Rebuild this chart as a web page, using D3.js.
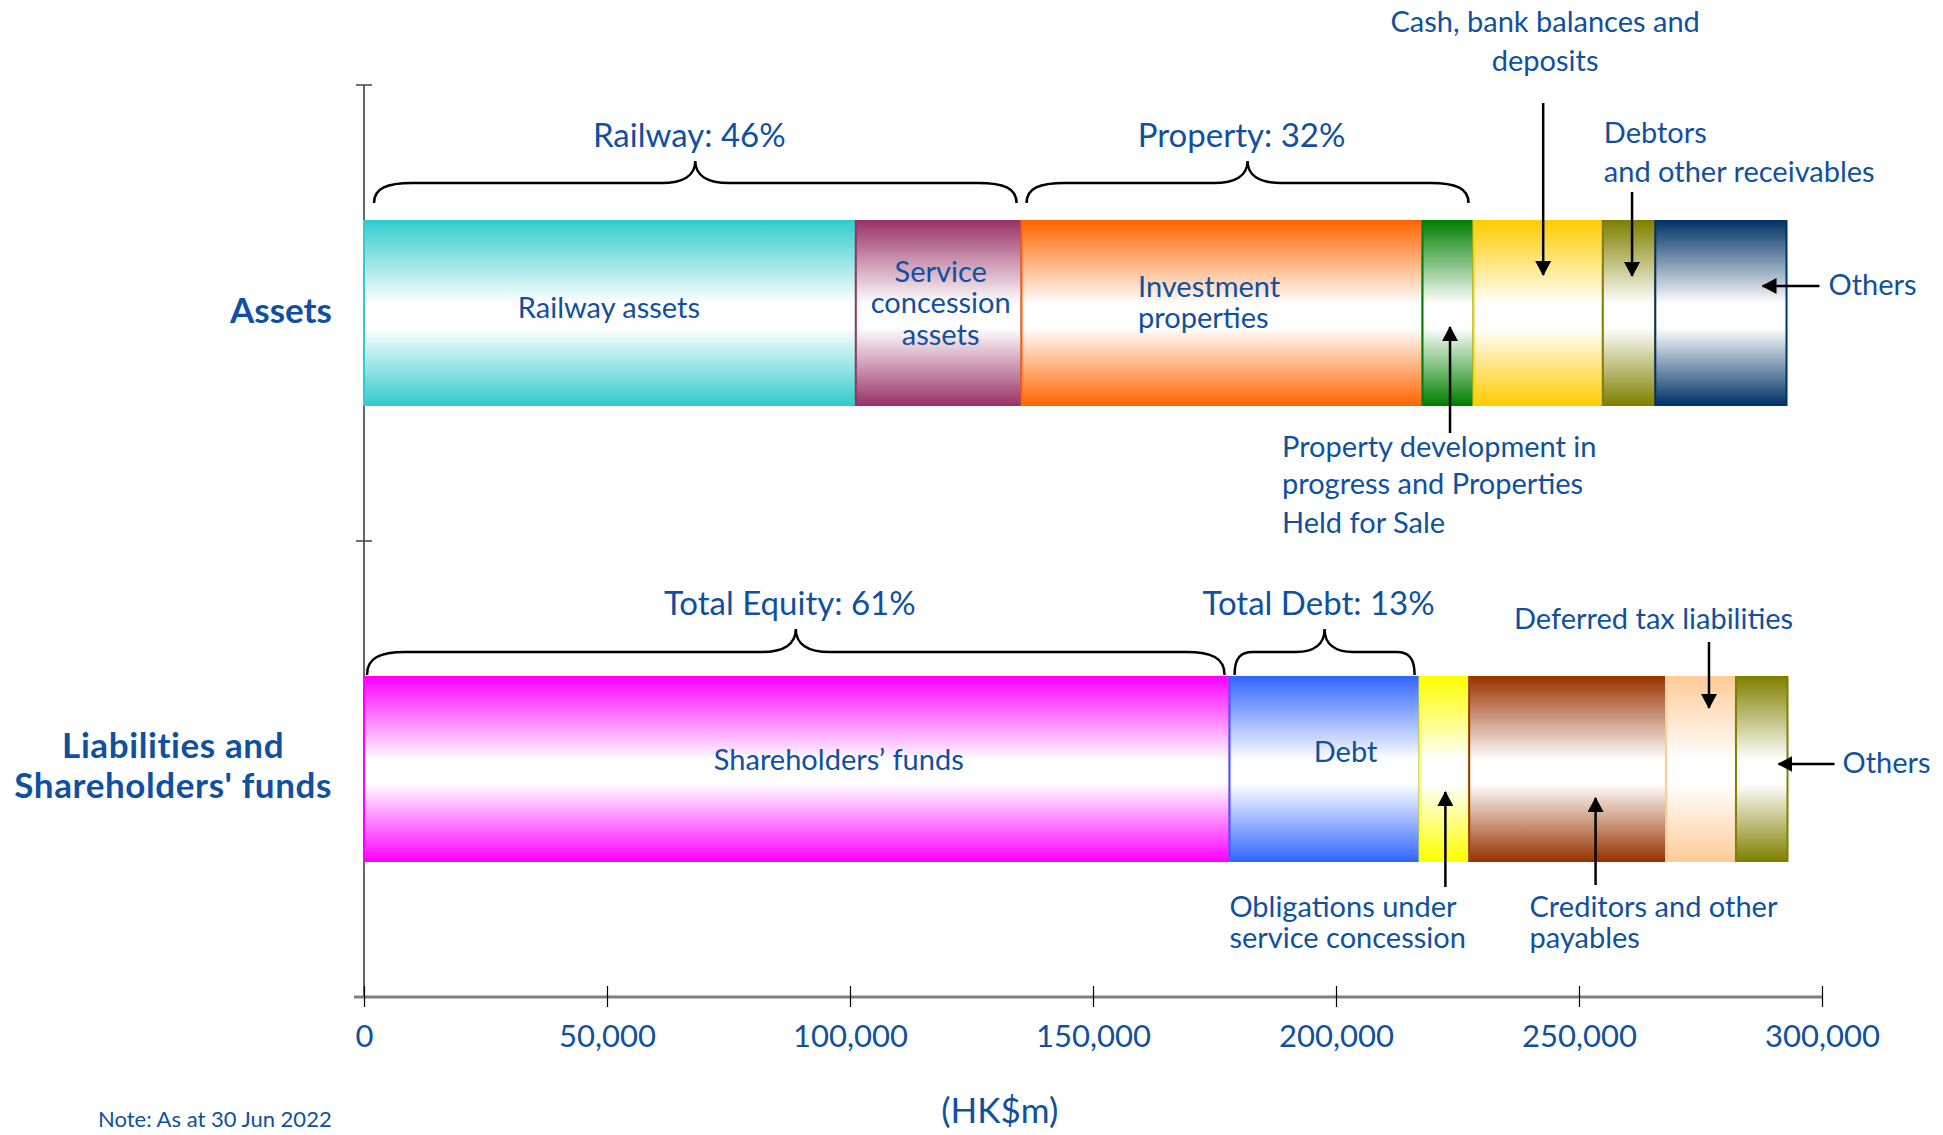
<!DOCTYPE html>
<html>
<head>
<meta charset="utf-8">
<script src="https://cdn.jsdelivr.net/npm/d3@7"></script>
<style>
  html, body { margin: 0; padding: 0; background: #fff; }
  svg { display: block; font-family: Lato, "Noto Sans", sans-serif; }
</style>
</head>
<body>
<svg id="chart" width="1943" height="1135"></svg>
<script>
// ---- Data (HK$m, as at 30 Jun 2022) ----
const categories = ["Assets", "Liabilities and Shareholders' funds"];
const categoryLines = [["Assets"], ["Liabilities and", "Shareholders' funds"]];

const assetItems = [
  ["Railway assets"],
  ["Service", "concession", "assets"],
  ["Investment", "properties"],
  ["Property development in", "progress and Properties", "Held for Sale"],
  ["Cash, bank balances and", "deposits"],
  ["Debtors", "and other receivables"],
  ["Others"]
];
const assetValues = [101200, 34100, 82500, 10500, 26600, 10800, 27000];

const liabilityItems = [
  ["Shareholders\u2019 funds"],
  ["Debt"],
  ["Obligations under", "service concession"],
  ["Creditors and other", "payables"],
  ["Deferred tax liabilities"],
  ["Others"]
];
const liabilityValues = [178100, 39100, 10200, 40500, 14400, 10600];

const assetGroups = ["Railway: 46%", "Property: 32%"];
const assetGroupSpans = [[0, 1], [2, 3]];
const liabilityGroups = ["Total Equity: 61%", "Total Debt: 13%"];
const liabilityGroupSpans = [[0, 0], [1, 1]];

const xTicks = [0, 50000, 100000, 150000, 200000, 250000, 300000];
const unitLabel = "(HK$m)";
const noteLabel = "Note: As at 30 Jun 2022";

// ---- Styling ----
const assetColors = ["#33cccc", "#993366", "#ff6600", "#008000", "#ffcc00", "#808000", "#003366"];
const liabilityColors = ["#ff00ff", "#3366ff", "#ffff00", "#993300", "#ffcc99", "#808000"];
const textBlue = "#1050a0";

// Label placement for each segment, relative to the segment centre (cx),
// the bar centre (cy) and the segment ends (x0, x1).
const assetLabelLayout = [
  { anchor: "middle", tx: s => s.cx - 1, ty: [5] },
  { anchor: "middle", tx: s => s.cx + 2, ty: [-31, 0, 32] },
  { anchor: "start",  tx: s => s.cx - 84, ty: [-16, 15] },
  { anchor: "start", tx: s => s.cx - 166, ty: [144, 181, 220],
    arrow: s => [[s.cx + 2, s.cy + 120], [s.cx + 2, s.cy + 14]] },
  { anchor: "middle", tx: s => s.cx + 7, ty: [-281, -242],
    arrow: s => [[s.cx + 5, s.cy - 210], [s.cx + 5, s.cy - 38]] },
  { anchor: "start", tx: s => s.x0 + 1, ty: [-170, -131],
    arrow: s => [[s.cx + 3, s.cy - 121], [s.cx + 3, s.cy - 37]] },
  { anchor: "start", tx: s => s.x1 + 42, ty: [-18],
    arrow: s => [[s.x1 + 33, s.cy - 27], [s.x1 - 24, s.cy - 27]] }
];
const liabilityLabelLayout = [
  { anchor: "middle", tx: s => s.cx + 42, ty: [1] },
  { anchor: "middle", tx: s => s.cx + 21, ty: [-7] },
  { anchor: "start", tx: s => s.cx - 215, ty: [148, 179],
    arrow: s => [[s.cx + 1, s.cy + 118], [s.cx + 1, s.cy + 23]] },
  { anchor: "start", tx: s => s.cx - 38, ty: [148, 179],
    arrow: s => [[s.cx + 28, s.cy + 116], [s.cx + 28, s.cy + 29]] },
  { anchor: "start", tx: s => s.cx - 187, ty: [-140],
    arrow: s => [[s.cx + 8, s.cy - 127], [s.cx + 8, s.cy - 61]] },
  { anchor: "start", tx: s => s.x1 + 55, ty: [4],
    arrow: s => [[s.x1 + 47, s.cy - 5], [s.x1 - 9, s.cy - 5]] }
];

// ---- Scales ----
const svg = d3.select("#chart");
const x = d3.scaleLinear().domain([0, 300000]).range([364, 1822]);
const y = d3.scaleBand().domain(categories).range([85, 997]).paddingInner(0).paddingOuter(0);
const barH = 184;
const axisY = y.range()[1];

const defs = svg.append("defs");

// Vertical "tube" gradients: colour at the edges, white through the middle
function gradientFor(id, color) {
  const g = defs.append("linearGradient").attr("id", id)
    .attr("x1", 0).attr("y1", 0).attr("x2", 0).attr("y2", 1);
  g.append("stop").attr("offset", "0%").attr("stop-color", color);
  g.append("stop").attr("offset", "45%").attr("stop-color", "#ffffff");
  g.append("stop").attr("offset", "58%").attr("stop-color", "#ffffff");
  g.append("stop").attr("offset", "100%").attr("stop-color", color);
  return `url(#${id})`;
}

defs.append("marker")
  .attr("id", "arrowhead")
  .attr("markerUnits", "userSpaceOnUse")
  .attr("viewBox", "0 0 15 16")
  .attr("markerWidth", 15).attr("markerHeight", 16)
  .attr("refX", 14).attr("refY", 8)
  .attr("orient", "auto")
  .append("path").attr("d", "M0,0 L15,8 L0,16 Z").attr("fill", "#000");

// ---- Axes ----
// Y axis: plain line with ticks at band boundaries
svg.append("line")
  .attr("x1", x(0)).attr("x2", x(0))
  .attr("y1", y.range()[0]).attr("y2", axisY)
  .attr("stroke", "#333").attr("stroke-width", 1.5);
const yBoundaries = categories.map(c => y(c)).concat([axisY]);
svg.append("g").selectAll("line").data(yBoundaries).join("line")
  .attr("x1", x(0) - 8).attr("x2", x(0) + 8)
  .attr("y1", d => d).attr("y2", d => d)
  .attr("stroke", "#444").attr("stroke-width", 1.5);

// X axis baseline
svg.append("line")
  .attr("x1", x(0) - 10).attr("x2", x.range()[1])
  .attr("y1", axisY).attr("y2", axisY)
  .attr("stroke", "#7f7f7f").attr("stroke-width", 3);

const xAxis = d3.axisBottom(x).tickValues(xTicks).tickFormat(d3.format(",")).tickSize(10);
const gx = svg.append("g").attr("transform", `translate(0,${axisY})`).call(xAxis)
  .attr("font-family", null).attr("font-size", null);
gx.select(".domain").remove();
gx.selectAll(".tick line").attr("y1", -11).attr("y2", 10).attr("stroke", "#000").attr("stroke-width", 1.2);
gx.selectAll(".tick text")
  .attr("y", 50).attr("dy", 0)
  .attr("font-size", 31).attr("fill", textBlue);

// ---- Bars ----
function segmentsOf(values, cat) {
  const ends = d3.cumsum(values);
  const top = y(cat) + (y.bandwidth() - barH) / 2;
  return values.map((v, i) => {
    const x0 = x(ends[i] - v), x1 = x(ends[i]);
    return { i, v, x0, x1, cx: (x0 + x1) / 2, top, cy: top + barH / 2 };
  });
}

function drawBar(values, cat, colors, key) {
  const segs = segmentsOf(values, cat);
  svg.append("g").selectAll("rect").data(segs).join("rect")
    .attr("x", d => d.x0).attr("y", d => d.top)
    .attr("width", d => d.x1 - d.x0).attr("height", barH)
    .attr("fill", d => gradientFor(`${key}-${d.i}`, colors[d.i]))
    .attr("stroke", d => colors[d.i]).attr("stroke-width", 2);
  return segs;
}

const assetSegs = drawBar(assetValues, categories[0], assetColors, "asset");
const liabSegs = drawBar(liabilityValues, categories[1], liabilityColors, "liab");

// ---- Segment labels and pointer arrows ----
function drawLabels(segs, items, layout) {
  const g = svg.append("g");
  segs.forEach((s, i) => {
    const L = layout[i];
    if (L.arrow) {
      const [[ax1, ay1], [ax2, ay2]] = L.arrow(s);
      g.append("line")
        .attr("x1", ax1).attr("y1", ay1).attr("x2", ax2).attr("y2", ay2)
        .attr("stroke", "#000").attr("stroke-width", 2.5)
        .attr("marker-end", "url(#arrowhead)");
    }
    const t = g.append("text")
      .attr("text-anchor", L.anchor)
      .attr("font-size", 29).attr("fill", textBlue);
    items[i].forEach((line, k) => {
      t.append("tspan").attr("x", L.tx(s)).attr("y", s.cy + L.ty[k]).text(line);
    });
  });
}
drawLabels(assetSegs, assetItems, assetLabelLayout);
drawLabels(liabSegs, liabilityItems, liabilityLabelLayout);

// ---- Curly braces over grouped segments ----
function bracePath(x1, x2, yEnd, yH, yPeak) {
  const w = x2 - x1, xm = (x1 + x2) / 2;
  const r = Math.min(38, w * 0.1);
  const r2 = Math.min(34, w * 0.16);
  const dv = yEnd - yH, dp = yH - yPeak;
  return `M${x1},${yEnd}`
    + ` C${x1},${yH + dv * 0.25} ${x1 + r * 0.35},${yH} ${x1 + r},${yH}`
    + ` L${xm - r2},${yH}`
    + ` C${xm - r2 * 0.35},${yH} ${xm},${yH - dp * 0.35} ${xm},${yPeak}`
    + ` C${xm},${yH - dp * 0.35} ${xm + r2 * 0.35},${yH} ${xm + r2},${yH}`
    + ` L${x2 - r},${yH}`
    + ` C${x2 - r * 0.35},${yH} ${x2},${yH + dv * 0.25} ${x2},${yEnd}`;
}

function drawBraces(segs, labels, spans, offsets, insetLeft) {
  const g = svg.append("g");
  labels.forEach((lab, k) => {
    const [a, b] = spans[k];
    const x1 = segs[a].x0 + (k === 0 ? insetLeft : 5), x2 = segs[b].x1 - 5;
    const top = segs[a].top;
    const yEnd = top - offsets[0], yH = top - offsets[1], yPeak = top - offsets[2];
    g.append("path").attr("d", bracePath(x1, x2, yEnd, yH, yPeak))
      .attr("fill", "none").attr("stroke", "#000").attr("stroke-width", 2.5);
    g.append("text")
      .attr("x", (x1 + x2) / 2 - 6).attr("y", yPeak - 14)
      .attr("text-anchor", "middle")
      .attr("font-size", 33).attr("fill", textBlue)
      .text(lab);
  });
}
drawBraces(assetSegs, assetGroups, assetGroupSpans, [18, 38, 60], 10);
drawBraces(liabSegs, liabilityGroups, liabilityGroupSpans, [2, 25, 48], 3);

// ---- Category labels (right-aligned block, lines centred within it) ----
const catOffsets = [[10], [-11, 29]];
const blockRight = x(0) - 32;
categories.forEach((c, i) => {
  const cy = y(c) + y.bandwidth() / 2;
  const t = svg.append("text")
    .attr("font-size", 35).attr("font-weight", 700)
    .attr("letter-spacing", i === 0 ? 0 : 0.6)
    .attr("fill", textBlue).attr("text-anchor", "middle");
  const spans = categoryLines[i].map((line, k) =>
    t.append("tspan").attr("y", cy + catOffsets[i][k]).text(line));
  const maxW = d3.max(spans, s => s.node().getComputedTextLength());
  spans.forEach(s => s.attr("x", blockRight - maxW / 2));
});

// ---- Unit and note ----
svg.append("text")
  .attr("x", x(130000) + 4).attr("y", 1123)
  .attr("text-anchor", "middle")
  .attr("font-size", 35).attr("fill", textBlue)
  .text(unitLabel);
svg.append("text")
  .attr("x", 98).attr("y", 1127)
  .attr("font-size", 22).attr("fill", textBlue)
  .text(noteLabel);
</script>
</body>
</html>
